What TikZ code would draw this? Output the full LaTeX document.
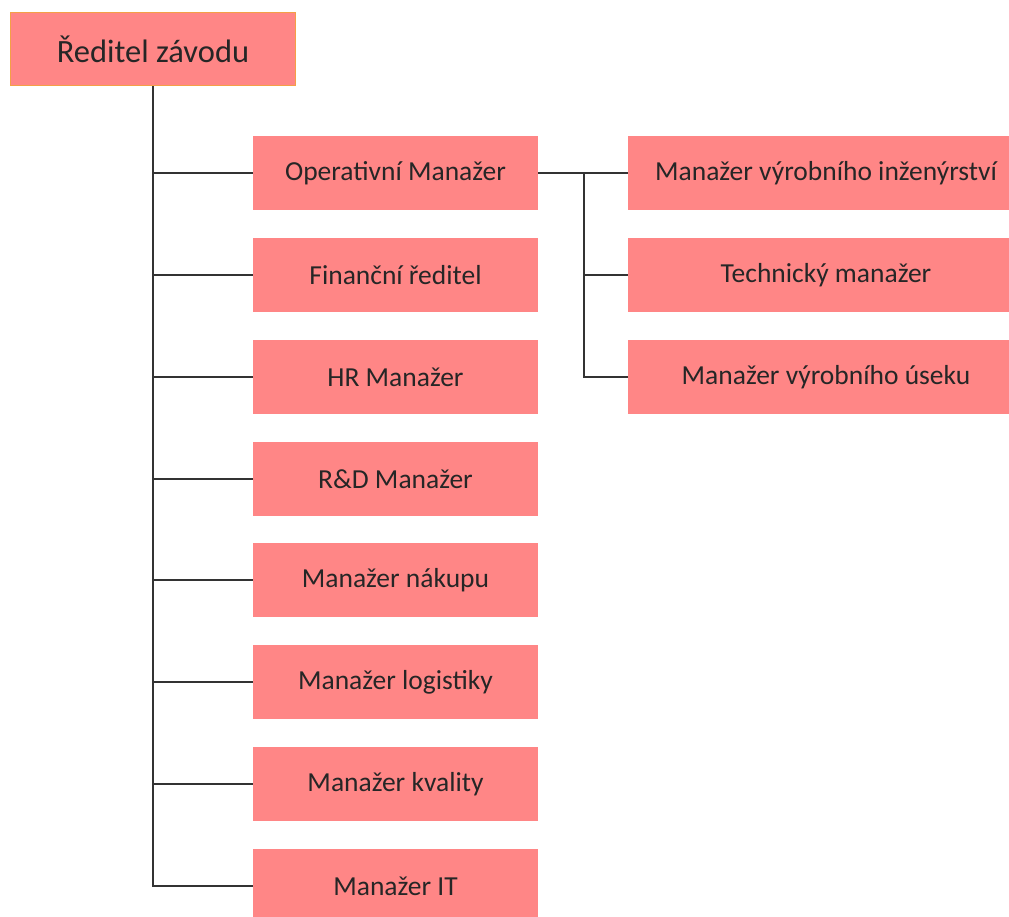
\documentclass[tikz,border=0pt]{standalone}
\usepackage{fontspec}
\setmainfont{Carlito}
\begin{document}
\begin{tikzpicture}[x=1pt,y=-1pt,
  unit/.style={rectangle, fill=boxfill, draw=none, minimum width=285pt, minimum height=74pt,
    inner sep=0pt, font=\fontsize{27.5}{30}\selectfont, text=black!85},
  subunit/.style={unit, minimum width=396pt},
  head/.style={rectangle, fill=boxfill, draw=headline, line width=1pt, minimum width=285pt,
    minimum height=73pt, inner sep=0pt, font=\fontsize{32.5}{36}\selectfont, text=black!85},
  link/.style={draw=black!80, line width=1.4pt}]
\definecolor{boxfill}{RGB}{255,134,134}
\definecolor{headline}{RGB}{244,160,70}
\useasboundingbox (0,0) rectangle (1009,916);
\clip (0,0) rectangle (1009,916);
\fill[white] (0,0) rectangle (1009,916);

% top of the chart
\node[head] (dir) at (153,49) {Ředitel závodu};

% direct reports
\node[unit] (op)  at (395.5,173) {Operativní Manažer};
\node[unit] (fin) at (395.5,275) {Finanční ředitel};
\node[unit] (hr)  at (395.5,377) {HR Manažer};
\node[unit] (rd)  at (395.5,479) {R\&D Manažer};
\node[unit] (nak) at (395.5,580) {Manažer nákupu};
\node[unit] (log) at (395.5,682) {Manažer logistiky};
\node[unit] (kva) at (395.5,784) {Manažer kvality};
\node[unit] (it)  at (395.5,886) {Manažer IT};

% reports of the operations manager
\node[subunit] (ing) at (826,173) {Manažer výrobního inženýrství};
\node[subunit] (tech) at (826,275) {Technický manažer};
\node[subunit] (vyr) at (826,377) {Manažer výrobního úseku};

% trunk from the director
\coordinate (trunk) at (153,886);
\draw[link] (dir.south) -- (trunk) -- (it.west);
\foreach \n in {op,fin,hr,rd,nak,log,kva}
  \draw[link] (dir.south |- \n.west) -- (\n.west);

% branch from the operations manager
\coordinate (fork) at (584,173);
\draw[link] (op.east) -- (ing.west);
\draw[link] (fork) |- (vyr.west);
\draw[link] (fork |- tech.west) -- (tech.west);
\end{tikzpicture}
\end{document}
